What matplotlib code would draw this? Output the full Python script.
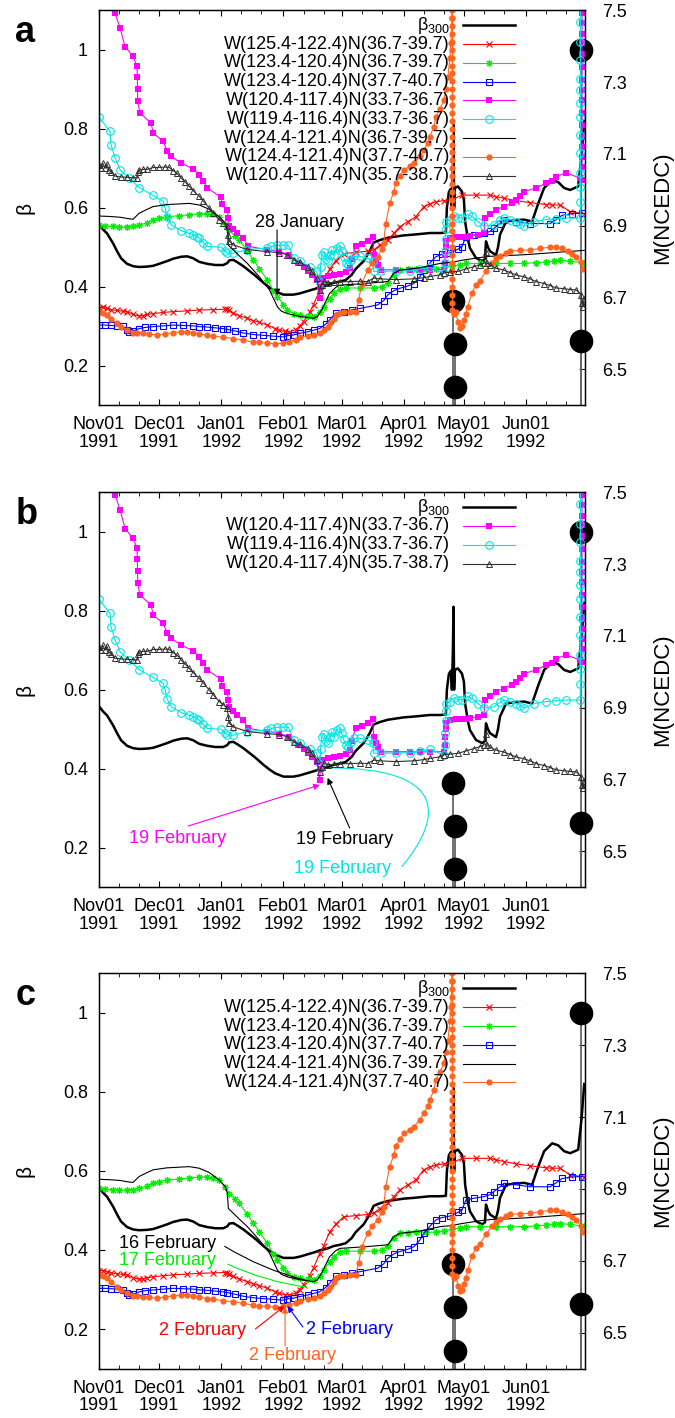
import datetime as dt
import matplotlib
matplotlib.use("Agg")
import matplotlib.pyplot as plt
import matplotlib.dates as mdates
from matplotlib.path import Path
from matplotlib.patches import PathPatch
import numpy as np

plt.rcParams['font.family'] = ['Liberation Sans', 'DejaVu Sans']
plt.rcParams['mathtext.fontset'] = 'custom'
plt.rcParams['mathtext.rm'] = 'Liberation Sans'
plt.rcParams['mathtext.it'] = 'Liberation Sans:italic'
plt.rcParams['font.size'] = 13

# all series: (days since 1 Nov 1991, beta)
beta300 = [(0, 0.558), (2, 0.545), (4, 0.535), (7, 0.51), (9, 0.49), (11, 0.472), (14, 0.458), (17, 0.452),
           (20, 0.45), (24, 0.451), (27, 0.453), (30, 0.458), (34, 0.465), (37, 0.471), (41, 0.476), (44, 0.477),
           (47, 0.472), (50, 0.463), (54, 0.458), (58, 0.455), (62, 0.455), (64, 0.46), (65, 0.467), (67, 0.468),
           (69, 0.462), (72, 0.452), (75, 0.44), (78, 0.428), (82, 0.41), (85, 0.398), (88, 0.388), (92, 0.38),
           (97, 0.38), (100, 0.383), (104, 0.389), (108, 0.395), (110, 0.399), (114, 0.404), (117, 0.41),
           (120, 0.413), (123, 0.417), (126, 0.43), (128, 0.445), (132, 0.465), (135, 0.49), (137, 0.512),
           (140, 0.518), (144, 0.524), (148, 0.527), (152, 0.53), (157, 0.532), (161, 0.534), (165, 0.536),
           (170, 0.536), (173, 0.537), (173.5, 0.6), (174.5, 0.64), (175.5, 0.648), (176, 0.6), (176.5, 0.7),
           (176.8, 0.81), (177.1, 0.6), (177.5, 0.65), (179, 0.654), (181, 0.641), (182, 0.62), (182.6, 0.565),
           (184, 0.52), (185, 0.498), (188, 0.473), (191, 0.465), (192.5, 0.47), (193, 0.515), (194, 0.5),
           (195, 0.49), (198, 0.48), (199, 0.5), (200, 0.532), (203, 0.565), (207, 0.568), (212, 0.57),
           (216, 0.565), (219, 0.61), (222, 0.65), (226, 0.67), (229, 0.665), (232, 0.65), (235, 0.645),
           (239, 0.654), (240.7, 0.734), (242, 0.82)]

red = [(0, 0.347), (2, 0.348), (4, 0.345), (6, 0.342), (9, 0.34), (12, 0.338), (14, 0.337), (17, 0.33),
       (20, 0.326), (22, 0.327), (24, 0.33), (27, 0.332), (32, 0.335), (37, 0.337), (44, 0.339), (50, 0.341),
       (57, 0.342), (63, 0.343), (64, 0.343), (65, 0.34), (67, 0.333), (70, 0.327), (74, 0.32), (77, 0.314),
       (80, 0.31), (84, 0.303), (88, 0.294), (90, 0.29), (93, 0.287), (95, 0.286), (98, 0.291), (100, 0.3),
       (102, 0.312), (105, 0.335), (107, 0.355), (110, 0.39), (112, 0.41), (115, 0.445), (118, 0.465),
       (122, 0.484), (128, 0.487), (134, 0.49), (137, 0.493), (140, 0.505), (144, 0.518), (147, 0.535),
       (150, 0.552), (154, 0.565), (158, 0.577), (162, 0.603), (165, 0.61), (168, 0.615), (172, 0.618),
       (176, 0.62), (181, 0.632), (188, 0.632), (195, 0.632), (198, 0.628), (202, 0.624), (208, 0.618),
       (215, 0.613), (223, 0.608), (226, 0.607), (230, 0.607), (235, 0.59), (242, 0.585)]

green = [(0, 0.556), (3, 0.554), (7, 0.553), (10, 0.551), (14, 0.552), (17, 0.553), (20, 0.556), (24, 0.562),
         (27, 0.569), (30, 0.573), (34, 0.577), (40, 0.58), (45, 0.582), (50, 0.585), (54, 0.585), (57, 0.583),
         (60, 0.577), (63, 0.56), (65, 0.543), (68, 0.528), (70, 0.518), (74, 0.49), (77, 0.468), (80, 0.445),
         (84, 0.417), (87, 0.39), (89, 0.375), (92, 0.355), (94, 0.341), (97, 0.332), (100, 0.328),
         (104, 0.326), (107, 0.324), (110, 0.335), (112, 0.349), (115, 0.37), (117, 0.383), (120, 0.395),
         (123, 0.397), (130, 0.397), (137, 0.397), (141, 0.4), (144, 0.41), (147, 0.43), (150, 0.442),
         (154, 0.444), (158, 0.446), (163, 0.445), (168, 0.445), (172, 0.449), (176, 0.452), (180, 0.456),
         (183, 0.459), (190, 0.459), (198, 0.459), (205, 0.459), (212, 0.459), (218, 0.461), (223, 0.463),
         (227, 0.465), (230, 0.467), (235, 0.465), (242, 0.46)]

blue = [(0, 0.303), (3, 0.303), (6, 0.302), (9, 0.301), (12, 0.3), (14, 0.29), (15, 0.286), (17, 0.288),
        (20, 0.294), (23, 0.297), (27, 0.299), (32, 0.301), (37, 0.303), (42, 0.302), (47, 0.301), (50, 0.299),
        (54, 0.298), (58, 0.296), (62, 0.294), (64, 0.292), (68, 0.288), (72, 0.283), (77, 0.279), (82, 0.277),
        (87, 0.275), (92, 0.273), (94, 0.276), (97, 0.278), (100, 0.282), (104, 0.286), (107, 0.29),
        (110, 0.294), (113, 0.305), (115, 0.316), (118, 0.333), (122, 0.337), (126, 0.341), (130, 0.345),
        (139, 0.354), (142, 0.365), (144, 0.379), (147, 0.39), (150, 0.396), (154, 0.402), (157, 0.408),
        (160, 0.425), (162, 0.442), (165, 0.46), (168, 0.476), (171, 0.482), (175, 0.486), (179, 0.495),
        (181, 0.501), (183, 0.527), (187, 0.531), (192, 0.535), (195, 0.54), (197, 0.548), (200, 0.56),
        (202, 0.569), (208, 0.565), (215, 0.56), (225, 0.56), (228, 0.57), (231, 0.581), (236, 0.585),
        (241, 0.586)]

magenta = [(7.5, 1.12), (8, 1.093), (10.5, 1.055), (13, 1.008), (17, 0.983), (19, 0.958), (19.1, 0.93),
           (19.2, 0.9), (19.3, 0.869), (20.4, 0.84), (26, 0.814), (27, 0.789), (32, 0.768), (34, 0.744),
           (36, 0.73), (41, 0.713), (47, 0.698), (50, 0.684), (52, 0.668), (54, 0.65), (61, 0.626),
           (61.2, 0.609), (64, 0.595), (64.5, 0.575), (65, 0.555), (67, 0.545), (69, 0.536), (72, 0.523),
           (74.5, 0.502), (84, 0.494), (90, 0.489), (95, 0.481), (99, 0.46), (102, 0.45), (104, 0.439),
           (106, 0.43), (108.5, 0.418), (110, 0.371), (110.5, 0.4), (111, 0.422), (114, 0.427), (117, 0.43),
           (120, 0.432), (123, 0.437), (125, 0.447), (126, 0.47), (128, 0.502), (131, 0.507), (134, 0.515),
           (136.5, 0.527), (137, 0.481), (138, 0.465), (139, 0.456), (140.5, 0.443), (148, 0.443),
           (155, 0.443), (160, 0.442), (165, 0.443), (172, 0.443), (172.5, 0.46), (172.7, 0.48), (172.9, 0.5),
           (173, 0.515), (175, 0.523), (178, 0.525), (180, 0.527), (183, 0.527), (185, 0.528), (189, 0.532),
           (192, 0.536), (192.5, 0.574), (195, 0.585), (198, 0.595), (202, 0.603), (206, 0.612), (208, 0.62),
           (210, 0.629), (212, 0.641), (218, 0.65), (223, 0.662), (226, 0.668), (228, 0.679), (233, 0.688),
           (240, 0.675), (240.8, 0.67), (240.9, 0.704), (240.9, 0.729), (240.9, 0.754), (240.9, 0.78),
           (240.9, 0.81), (240.9, 0.839), (240.9, 0.873), (240.9, 0.898), (240.9, 0.923), (240.9, 0.957),
           (240.9, 0.99), (240.9, 1.016), (240.9, 1.04), (240.9, 1.067), (240.9, 1.092), (241, 1.2)]

cyan = [(0, 0.829), (5.5, 0.793), (6, 0.759), (8, 0.726), (10.5, 0.696), (15, 0.675), (20, 0.651), (27, 0.631),
        (32, 0.616), (33, 0.599), (34, 0.576), (36, 0.557), (41, 0.542), (45, 0.535), (47, 0.532), (49, 0.527),
        (50, 0.523), (52, 0.512), (54, 0.502), (61, 0.5), (63, 0.49), (64, 0.485), (67, 0.485), (74, 0.494),
        (84, 0.498), (86, 0.502), (89, 0.505), (92, 0.505), (94.5, 0.505), (97, 0.473), (100, 0.464),
        (105, 0.451), (108.5, 0.439), (110, 0.413), (110.5, 0.45), (111, 0.48), (112, 0.489), (113, 0.47),
        (114, 0.465), (115, 0.48), (116, 0.494), (117, 0.48), (118.5, 0.498), (120, 0.502), (121, 0.49),
        (122, 0.475), (123, 0.46), (124, 0.456), (125.5, 0.468), (127, 0.477), (130, 0.477), (134, 0.473),
        (136.5, 0.464), (137, 0.439), (140.5, 0.439), (148, 0.44), (155, 0.44), (160, 0.445), (165, 0.449),
        (172, 0.435), (172.6, 0.46), (172.8, 0.49), (172.9, 0.52), (173, 0.545), (173.2, 0.565), (175, 0.57),
        (177, 0.58), (179, 0.575), (181, 0.574), (184, 0.583), (186, 0.578), (189, 0.565), (192, 0.553),
        (197, 0.557), (200, 0.568), (202, 0.574), (205, 0.57), (208, 0.565), (210, 0.56), (212, 0.553),
        (217, 0.565), (223, 0.57), (228, 0.572), (233, 0.574), (240, 0.574), (240.1, 0.615), (240.1, 0.653),
        (240.1, 0.687), (240.1, 0.738), (240.1, 0.784), (240.1, 0.83), (240.1, 0.864), (240.1, 0.898),
        (240.1, 0.927), (240.1, 0.974), (240.1, 1.02), (240.1, 1.07), (240.2, 1.2)]

thin_black = [(0, 0.579), (5, 0.578), (10.5, 0.576), (15, 0.572), (17, 0.571), (20, 0.586), (24, 0.596),
              (27, 0.603), (34, 0.608), (45, 0.611), (50, 0.607), (55, 0.596), (60, 0.577), (63, 0.56),
              (64, 0.544), (64.5, 0.505), (67, 0.493), (70, 0.478), (74, 0.459), (80, 0.425), (85, 0.392),
              (89, 0.349), (91, 0.338), (94, 0.332), (100, 0.325), (107, 0.32), (109, 0.325), (111, 0.341),
              (115, 0.383), (118, 0.398), (120, 0.404), (132, 0.408), (144, 0.413), (147, 0.434), (150, 0.442),
              (160, 0.448), (170, 0.459), (176, 0.462), (181, 0.467), (190, 0.474), (195, 0.477), (208, 0.48),
              (215, 0.482), (231, 0.488), (242, 0.492)]

orange = [(0, 0.337), (2, 0.333), (4, 0.328), (6, 0.318), (9, 0.307), (11, 0.298), (14, 0.29), (17, 0.284),
          (19, 0.283), (22, 0.282), (25, 0.28), (29, 0.278), (33, 0.281), (37, 0.284), (41, 0.286), (44, 0.286),
          (47, 0.283), (50, 0.28), (54, 0.277), (57, 0.275), (62, 0.272), (67, 0.269), (72, 0.265), (77, 0.26),
          (80, 0.259), (84, 0.257), (88, 0.256), (92, 0.257), (95, 0.261), (98, 0.266), (100, 0.272),
          (104, 0.276), (107, 0.278), (110, 0.283), (112, 0.29), (114, 0.298), (115, 0.307), (117, 0.318),
          (118, 0.328), (120, 0.333), (122, 0.335), (125, 0.336), (128, 0.337), (129.5, 0.366), (131, 0.408),
          (134, 0.442), (136, 0.46), (139, 0.476), (141, 0.495), (142, 0.51), (143, 0.56), (145, 0.611),
          (147, 0.64), (148, 0.662), (150, 0.68), (152, 0.695), (155, 0.705), (157, 0.712), (160, 0.73),
          (162, 0.746), (164, 0.765), (165, 0.78), (167, 0.805), (168, 0.83), (170, 0.85), (172, 0.873),
          (173, 0.9), (174, 0.93), (175, 0.98), (175.5, 1.016), (176, 1.08), (176.15, 1.3),
          (176.3, 1.10), (176.3, 1.08), (176.3, 1.06), (176.3, 1.04), (176.3, 1.02), (176.3, 1.00),
          (176.3, 0.98), (176.3, 0.96), (176.3, 0.94), (176.3, 0.92), (176.3, 0.90), (176.3, 0.88),
          (176.3, 0.86), (176.3, 0.84), (176.3, 0.82), (176.3, 0.80), (176.3, 0.78), (176.3, 0.76),
          (176.3, 0.74), (176.3, 0.72), (176.3, 0.70), (176.3, 0.68), (176.3, 0.66), (176.3, 0.64),
          (176.3, 0.62), (176.3, 0.60), (176.3, 0.58), (176.3, 0.56), (176.3, 0.54), (176.3, 0.52),
          (176.3, 0.50), (176.3, 0.48), (176.3, 0.46), (176.3, 0.44), (176.3, 0.42), (176.3, 0.40),
          (176.3, 0.38), (176.3, 0.36), (176.3, 0.34),
          (177, 0.33), (178, 0.335), (179, 0.31), (180, 0.295), (181, 0.3), (182, 0.315), (183, 0.33),
          (184, 0.35), (186, 0.385), (188, 0.405), (190, 0.415), (193, 0.44), (196, 0.46), (198, 0.472),
          (200, 0.478), (203, 0.486), (205, 0.49), (210, 0.492), (215, 0.493), (220, 0.497), (225, 0.5),
          (228, 0.5), (231, 0.497), (234, 0.49), (236, 0.483), (238, 0.475), (240.5, 0.462), (241.5, 0.445)]

triangles = [(0, 0.709), (1, 0.7), (2, 0.712), (3, 0.7), (4, 0.71), (5, 0.695), (6, 0.691), (8, 0.68),
             (11, 0.678), (14, 0.677), (17, 0.676), (19, 0.675), (19.5, 0.69), (20, 0.696), (22, 0.697),
             (24, 0.697), (27, 0.702), (30, 0.702), (33, 0.703), (35, 0.702), (37, 0.694), (39, 0.687),
             (41, 0.675), (43, 0.665), (45, 0.654), (47, 0.643), (50, 0.629), (52, 0.617), (55, 0.599),
             (57, 0.587), (60, 0.57), (62, 0.562), (64, 0.553), (64.5, 0.53), (65, 0.515), (67, 0.506),
             (74, 0.494), (84, 0.489), (90, 0.486), (94, 0.481), (97, 0.468), (100, 0.462), (104, 0.451),
             (106, 0.44), (108.5, 0.422), (110, 0.392), (111, 0.405), (112, 0.414), (114, 0.41), (117, 0.411),
             (120, 0.412), (125, 0.413), (130, 0.414), (134, 0.413), (137, 0.422), (140, 0.42), (148, 0.418),
             (157, 0.42), (162, 0.423), (165, 0.426), (170, 0.43), (172, 0.435), (175, 0.437), (179, 0.439),
             (183, 0.445), (187, 0.451), (190, 0.456), (192, 0.46), (193, 0.489), (193.5, 0.46), (195, 0.455),
             (198, 0.447), (202, 0.442), (205, 0.436), (208, 0.43), (212, 0.425), (215, 0.42), (218, 0.413),
             (222, 0.408), (225, 0.403), (228, 0.397), (232, 0.395), (235, 0.393), (238, 0.392), (240.5, 0.38),
             (241, 0.36), (241.5, 0.35), (242, 0.37)]

# earthquakes (days since 1 Nov 1991, magnitude NCEDC)
quake_day = [176.75, 177.32, 177.47, 240.50, 240.63]
quake_mag = [6.69, 6.57, 6.45, 7.39, 6.58]

months = [dt.datetime(1991, 11, 1), dt.datetime(1991, 12, 1), dt.datetime(1992, 1, 1), dt.datetime(1992, 2, 1),
          dt.datetime(1992, 3, 1), dt.datetime(1992, 4, 1), dt.datetime(1992, 5, 1), dt.datetime(1992, 6, 1)]

series = {'b300': beta300, 'red': red, 'green': green, 'blue': blue, 'mag': magenta,
          'cyan': cyan, 'thin': thin_black, 'orange': orange, 'tri': triangles}

labels = {'b300': r'$\mathrm{\beta_{300}}$',
          'red': 'W(125.4-122.4)N(36.7-39.7)',
          'green': 'W(123.4-120.4)N(36.7-39.7)',
          'blue': 'W(123.4-120.4)N(37.7-40.7)',
          'mag': 'W(120.4-117.4)N(33.7-36.7)',
          'cyan': 'W(119.4-116.4)N(33.7-36.7)',
          'thin': 'W(124.4-121.4)N(36.7-39.7)',
          'orange': 'W(124.4-121.4)N(37.7-40.7)',
          'tri': 'W(120.4-117.4)N(35.7-38.7)'}

styles = {'b300': dict(color='black', lw=1.8),
          'red': dict(color='#ff0000', lw=0.8, marker='x', ms=4.5, mew=0.8),
          'green': dict(color='#00ee00', lw=0.8, marker=(8, 2, 0), ms=5, mew=0.8),
          'blue': dict(color='#0000ff', lw=0.8, marker='s', ms=5, mfc='none', mew=0.8),
          'mag': dict(color='#ff00ff', lw=0.8, marker='s', ms=4.5, mew=0),
          'cyan': dict(color='#00e5e5', lw=0.8, marker='o', ms=5.5, mfc='none', mew=0.8),
          'thin': dict(color='black', lw=0.8),
          'orange': dict(color='#ff6420', lw=0.8, marker='o', ms=4.5, mew=0),
          'tri': dict(color='#303030', lw=0.8, marker='^', ms=4.5, mfc='none', mew=0.7)}

panels = [('a', 0.7142, ['b300', 'red', 'green', 'blue', 'mag', 'cyan', 'thin', 'orange', 'tri']),
          ('b', 0.3743, ['b300', 'mag', 'cyan', 'tri']),
          ('c', 0.0349, ['b300', 'red', 'green', 'blue', 'thin', 'orange'])]

t0 = mdates.date2num(dt.datetime(1991, 11, 1))


def X(d):
    return t0 + np.asarray(d, dtype=float)


fig = plt.figure(figsize=(6.75, 14.18), dpi=100)

axes = {}
for name, bottom, keys in panels:
    ax = fig.add_axes([0.1467, bottom, 0.72, 0.2786])
    ax2 = ax.twinx()
    ax2.set_zorder(ax.get_zorder() - 1)
    ax.patch.set_visible(False)
    axes[name] = ax

    # earthquakes on right axis
    ax2.vlines(X(quake_day), 6.4, quake_mag, color='0.4', lw=1.3)
    ax2.plot(X(quake_day), quake_mag, 'o', color='black', ms=16, clip_on=False)
    ax2.set_ylim(6.4, 7.5)
    ax2.set_yticks([6.5, 6.7, 6.9, 7.1, 7.3, 7.5])
    ax2.tick_params(axis='y', direction='in', length=4, pad=12, labelsize=13)

    for k in keys:
        d, v = zip(*series[k])
        ax.plot(X(d), v, **styles[k])

    ax.set_xlim(t0, t0 + 242.4)
    ax.set_ylim(0.1, 1.1)
    ax.set_yticks([0.2, 0.4, 0.6, 0.8, 1.0])
    ax.set_yticklabels(['0.2', '0.4', '0.6', '0.8', '1'])
    ax.set_xticks(mdates.date2num(months))
    ax.set_xticklabels([m.strftime('%b%d\n%Y') for m in months], linespacing=1.05)
    minor = [dt.datetime(m.year, m.month, dd) for m in months for dd in (11, 21)]
    ax.set_xticks(mdates.date2num(minor), minor=True)
    ax.tick_params(axis='x', which='both', direction='in', top=True, pad=8, labelsize=13)
    ax.tick_params(axis='x', which='major', length=4)
    ax.tick_params(axis='x', which='minor', length=3)
    ax.tick_params(axis='y', direction='in', length=4, pad=8, labelsize=13)
    for sp in ax.spines.values():
        sp.set_linewidth(1.0)

    ax.text(-0.152, 0.5, 'β', transform=ax.transAxes, rotation=90, ha='center', va='center', fontsize=15)
    ax.text(1.160, 0.5, 'M(NCEDC)', transform=ax.transAxes, rotation=90, ha='center', va='center', fontsize=16)
    ax.text(-0.172, 0.92, name, transform=ax.transAxes, ha='left', va='baseline', fontsize=26,
            fontweight='bold')

    # gnuplot-like key: text right aligned, sample on the right
    for i, k in enumerate(keys):
        y = 1 - (15 + 18.8 * i) / 395
        ax.text(0.722, y, labels[k], transform=ax.transAxes, ha='right', va='center', fontsize=13, zorder=10)
        ax.plot([0.749, 0.8025, 0.856], [y, y, y], transform=ax.transAxes, clip_on=False,
                markevery=[1], zorder=10, **styles[k])

arrow = dict(arrowstyle='-|>', lw=0.8, mutation_scale=9, shrinkA=0, shrinkB=0)

# panel a
ax = axes['a']
ax.text(X(77.8), 0.552, '28 January', ha='left', va='baseline', fontsize=13)
ax.annotate('', xy=(X(88.8), 0.378), xytext=(X(88.8), 0.544), arrowprops=dict(color='black', **arrow))

# panel b
ax = axes['b']
ax.text(X(39.2), 0.224, '19 February', color='#ff00ff', ha='center', va='center', fontsize=13)
ax.annotate('', xy=(X(110.2), 0.359), xytext=(X(44.5), 0.255), arrowprops=dict(color='#ff00ff', **arrow))
ax.text(X(122.7), 0.22, '19 February', color='black', ha='center', va='center', fontsize=13)
ax.annotate('', xy=(X(114), 0.377), xytext=(X(125), 0.25), arrowprops=dict(color='black', **arrow))
ax.text(X(121.4), 0.148, '19 February', color='#00e5e5', ha='center', va='center', fontsize=13)
curve = Path([(X(151.0), 0.152), (X(172.6), 0.283), (X(172.6), 0.402), (X(115.2), 0.402)],
             [Path.MOVETO, Path.CURVE4, Path.CURVE4, Path.CURVE4])
ax.add_patch(PathPatch(curve, fill=False, edgecolor='#00e5e5', lw=0.8))

# panel c
ax = axes['c']
ax.text(X(34), 0.417, '16 February', color='black', ha='center', va='center', fontsize=13)
ax.annotate('', xy=(X(104), 0.322), xytext=(X(61.5), 0.413),
            arrowprops=dict(arrowstyle='-', color='black', lw=0.8, connectionstyle='arc3,rad=0.08'))
ax.text(X(34), 0.373, '17 February', color='#00ee00', ha='center', va='center', fontsize=13)
ax.annotate('', xy=(X(105), 0.305), xytext=(X(63), 0.367),
            arrowprops=dict(arrowstyle='-', color='#00ee00', lw=0.8, connectionstyle='arc3,rad=0.08'))
ax.text(X(51.5), 0.197, '2 February', color='#ff0000', ha='center', va='center', fontsize=13)
ax.annotate('', xy=(X(92.5), 0.258), xytext=(X(78), 0.2), arrowprops=dict(color='#ff0000', **arrow))
ax.text(X(125), 0.2, '2 February', color='#0000ff', ha='center', va='center', fontsize=13)
ax.annotate('', xy=(X(94), 0.258), xytext=(X(101.7), 0.205), arrowprops=dict(color='#0000ff', **arrow))
ax.text(X(96.3), 0.134, '2 February', color='#ff6420', ha='center', va='center', fontsize=13)
ax.annotate('', xy=(X(92.8), 0.256), xytext=(X(92.8), 0.157), arrowprops=dict(color='#ff6420', **arrow))

fig.savefig('out.png', dpi=100)
